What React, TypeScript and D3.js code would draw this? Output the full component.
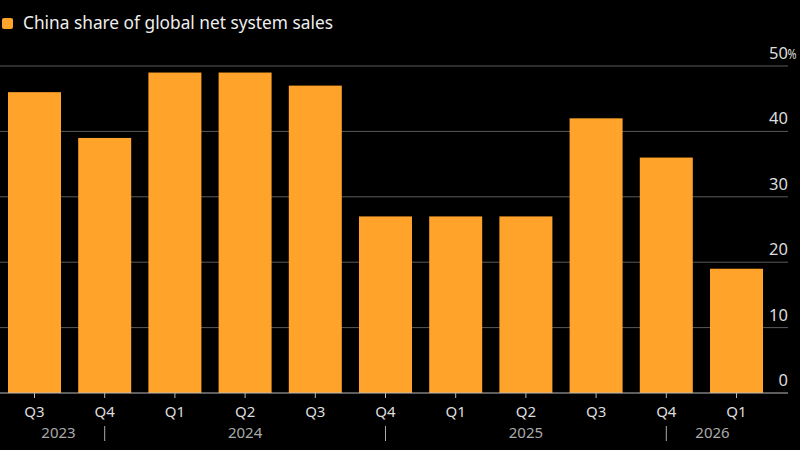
import React from 'react';
import * as d3 from 'd3';

const quarters = ['Q3', 'Q4', 'Q1', 'Q2', 'Q3', 'Q4', 'Q1', 'Q2', 'Q3', 'Q4', 'Q1'];
const chinaShare = [46, 39, 49, 49, 47, 27, 27, 27, 42, 36, 19];
const yTicks = [0, 10, 20, 30, 40, 50];

// year labels: text, quarter index it sits under, and alignment
const yearLabels = [
  { text: '2023', at: 1, anchor: 'end' },
  { text: '2024', at: 3, anchor: 'middle' },
  { text: '2025', at: 7, anchor: 'middle' },
  { text: '2026', at: 9, anchor: 'start' },
];
const yearSeparators = [1, 5, 9];

const W = 800;
const H = 450;
const FONT = '"Noto Sans", "Open Sans", sans-serif';
const ORANGE = '#ffa32a';

export default function App() {
  const left = 0;
  const right = 788;
  const top = 66;
  const bottom = 393;

  const idx = quarters.map((_, i) => String(i));
  const x = d3.scaleBand().domain(idx).range([8, 763]).paddingInner(0.245).paddingOuter(0);
  const y = d3.scaleLinear().domain([0, 50]).range([bottom, top]);
  const cx = (i: number) => (x(String(i)) ?? 0) + x.bandwidth() / 2;

  return (
    <div style={{ position: 'fixed', left: 0, top: 0, width: W, height: H, background: '#000' }}>
      <svg width={W} height={H} style={{ display: 'block', background: '#000' }} fontFamily={FONT}>
        {/* legend */}
        <rect x={2} y={18} width={11} height={11} rx={2} fill={ORANGE} />
        <text x={23} y={29} fill="#eee" fontSize={17.3}>China share of global net system sales</text>

        {/* gridlines */}
        {yTicks.filter((t) => t > 0).map((t) => (
          <line key={t} x1={left} x2={right} y1={y(t)} y2={y(t)} stroke="#5a5a5a" strokeWidth={1} />
        ))}

        {/* bars */}
        {chinaShare.map((v, i) => (
          <rect key={i} x={x(String(i))} y={y(v)} width={x.bandwidth()} height={y(0) - y(v)} fill={ORANGE} />
        ))}

        {/* baseline */}
        <line x1={left} x2={right} y1={y(0)} y2={y(0)} stroke="#bbb" strokeWidth={1} />

        {/* y labels, top one carries the unit */}
        {yTicks.map((t) => (
          <text key={t} x={right} y={y(t) - 7} fill="#ddd" fontSize={16.5} textAnchor="end">{t}</text>
        ))}
        <text x={right - 0.5} y={y(50) - 7} fill="#ddd" fontSize={15} textLength={9} lengthAdjust="spacingAndGlyphs">%</text>

        {/* x ticks and quarter labels */}
        {quarters.map((q, i) => (
          <g key={i}>
            <line x1={cx(i)} x2={cx(i)} y1={y(0)} y2={y(0) + 5} stroke="#bbb" />
            <text x={cx(i)} y={417} fill="#ddd" fontSize={15} textAnchor="middle">{q}</text>
          </g>
        ))}

        {/* year separators */}
        {yearSeparators.map((i) => (
          <line key={i} x1={cx(i)} x2={cx(i)} y1={426} y2={441} stroke="#aaa" />
        ))}

        {/* year labels */}
        {yearLabels.map((yl) => {
          const base = cx(yl.at);
          const xx = yl.anchor === 'end' ? base - 29 : yl.anchor === 'start' ? base + 29 : base;
          return (
            <text key={yl.text} x={xx} y={438} fill="#aaa" fontSize={15} textAnchor={yl.anchor as any}>{yl.text}</text>
          );
        })}
      </svg>
    </div>
  );
}
